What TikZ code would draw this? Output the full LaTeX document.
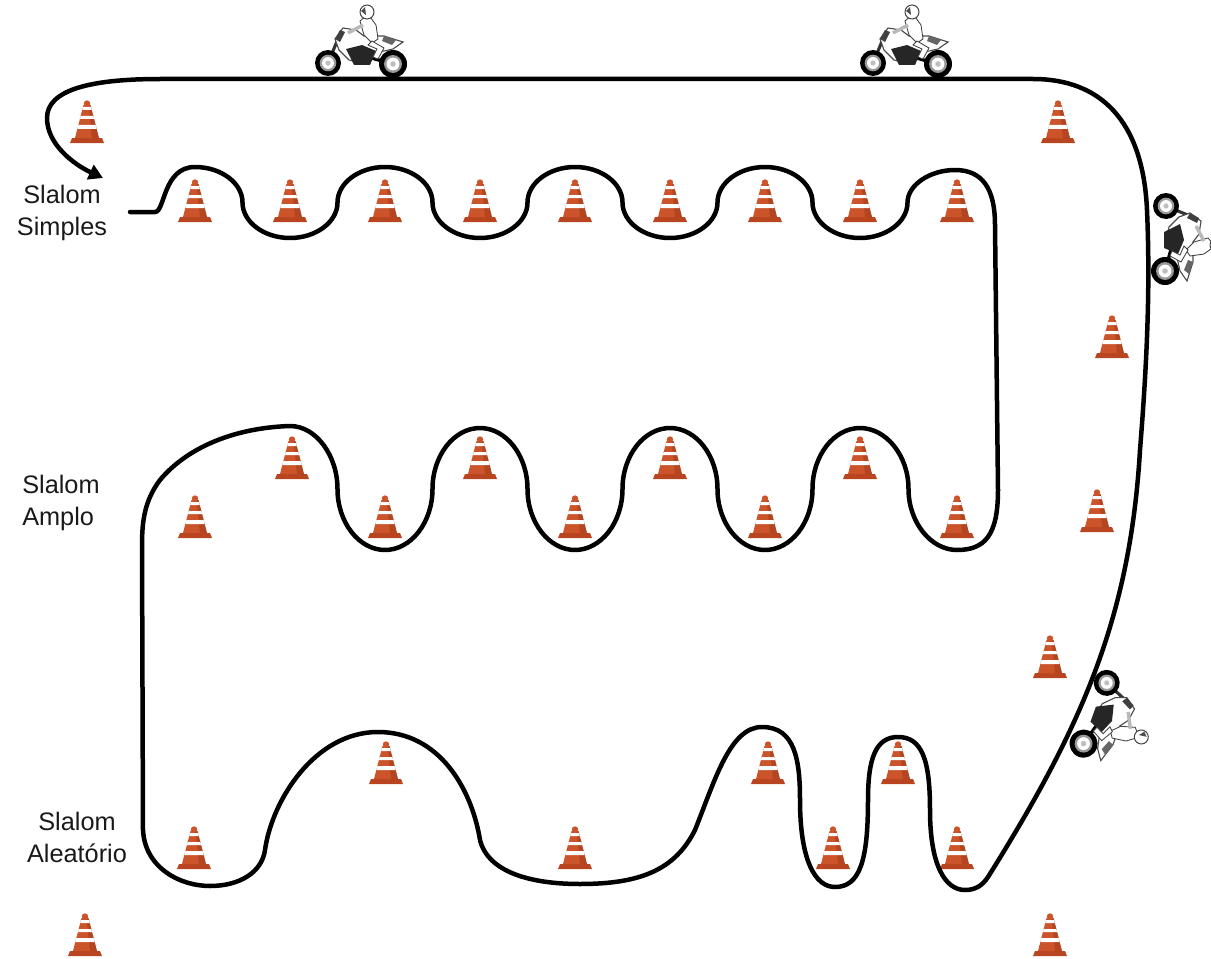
\documentclass[tikz,border=0pt]{standalone}
\usepackage{fontspec}
\setmainfont{Liberation Sans}
\usetikzlibrary{arrows.meta}

\definecolor{conebody}{RGB}{204,84,42}
\definecolor{conedark}{RGB}{150,52,22}
\definecolor{conebase}{RGB}{185,68,32}

\tikzset{
  track/.style={line width=3.2pt, line cap=round, line join=round},
  lbl/.style={font=\fontsize{18}{22.7}\selectfont, inner sep=0pt, text=black!90},
  % traffic cone, origin at the middle of its base plate
  cone/.pic={
    \fill[conebase] (-17,0) -- (17,0) -- (15,-5) -- (-15,-5) -- cycle;
    \fill[conebody] (-12,-5) -- (12,-5) -- (3.5,-38) -- (-3.5,-38) -- cycle;
    \fill[conedark, opacity=0.45] (5,-5) -- (12,-5) -- (3.5,-38) -- (1.5,-38) -- cycle;
    \fill[white] (-4.0,-36) -- (4.0,-36) -- (4.8,-33) -- (-4.8,-33) -- cycle;
    \fill[white] (-6.3,-27) -- (6.3,-27) -- (7.1,-24) -- (-7.1,-24) -- cycle;
    \fill[white] (-8.6,-18) -- (8.6,-18) -- (9.7,-14) -- (-9.7,-14) -- cycle;
    \fill[conebody] (0,-39.5) circle (3.2);
  },
  % motorcycle with rider, heading towards -x, y grows downwards
  moto/.pic={
    \draw[line width=2.4pt, black] (31,19) -- (6,12);
    \draw[line width=2.2pt, black!80] (-34,18) -- (-24,-6);
    \foreach \wx/\wy/\wr in {-34/18/13, 31/19/14} {
      \fill[black] (\wx,\wy) circle (\wr);
      \fill[gray!80] (\wx,\wy) circle ({0.64*\wr});
      \fill[white] (\wx,\wy) circle ({0.46*\wr});
      \fill[gray!50] (\wx,\wy) circle ({0.2*\wr});
    }
    \filldraw[fill=white, draw=black!70, line width=0.8pt]
      (-27,-6) -- (-19,-17) -- (-6,-15) -- (2,-9) -- (22,-9) -- (41,-3)
      -- (31,4) -- (13,8) -- (0,18) -- (-13,15) -- (-23,5) -- cycle;
    \fill[black!85] (-16,4) -- (0,0) -- (14,6) -- (8,20) -- (-8,20) -- cycle;
    \fill[black!75] (-27,-6) -- (-22,-15) -- (-17,-13) -- (-22,-3) -- cycle;
    \fill[black!60] (22,-9) -- (34,-5) -- (30,0) -- (20,-4) -- cycle;
    \filldraw[fill=white, draw=gray!50!black, line width=0.6pt]
      (2,-10) -- (-2,-24) -- (6,-31) -- (14,-20) -- (16,-6) -- (10,-2) -- cycle;
    \filldraw[fill=white, draw=gray!50!black, line width=0.6pt]
      (10,-4) -- (22,3) -- (16,14) -- (11,12) -- (15,4) -- (6,0) -- cycle;
    \draw[line width=2.4pt, gray!55] (1,-20) -- (-14,-12);
    \filldraw[fill=white, draw=gray!50!black, line width=0.7pt] (5,-33) circle (7);
    \fill[black!70] (-1,-34) -- (3,-38) -- (4,-30) -- cycle;
  }
}

\begin{document}
\begin{tikzpicture}[x=0.025cm, y=-0.025cm]
\useasboundingbox (0,0) rectangle (1211,959);

% cones of the simple slalom
\foreach \cx [count=\i] in {195,290,385,480,575,670,765,860,957}
  \pic (simples\i) at (\cx,222) {cone};

% cones of the wide slalom
\foreach \cx [count=\i] in {195,385,575,765,957}
  \pic (amploB\i) at (\cx,538) {cone};
\foreach \cx [count=\i] in {292,480,670,860}
  \pic (amploT\i) at (\cx,479) {cone};

% cones of the random slalom
\pic (alea1) at (194,869) {cone};
\pic (alea2) at (386,784) {cone};
\pic (alea3) at (575,869) {cone};
\pic (alea4) at (768,784) {cone};
\pic (alea5) at (833,869) {cone};
\pic (alea6) at (898,784) {cone};
\pic (alea7) at (957,869) {cone};

% outer cones
\pic (outer1) at (87,143) {cone};
\pic (outer2) at (1058,143) {cone};
\pic (outer3) at (1112,358) {cone};
\pic (outer4) at (1097,532) {cone};
\pic (outer5) at (1050,678) {cone};
\pic (outer6) at (85,956) {cone};
\pic (outer7) at (1050,956) {cone};

% motorcycles on the return lane
\pic (moto1) at (362,45) {moto};
\pic (moto2) at (907,45) {moto};
\pic[rotate=-90] (moto3) at (1184,240) {moto};
\pic[rotate=-110] (moto4) at (1112,721) {moto};

% the course
\coordinate (start) at (130,212);
\coordinate (finish) at (103,178);
\draw[track, -{Triangle[length=10pt,width=11pt]}] (start) -- (155,212)
  .. controls (165,212) and (163,167) .. (195,167)
  % simple slalom
  .. controls (221,167) and (242.5,183) .. (242.5,202.5) .. controls (242.5,222) and (264,238) .. (290,238)
  .. controls (316,238) and (337.5,222) .. (337.5,202.5) .. controls (337.5,183) and (359,167) .. (385,167)
  .. controls (411,167) and (432.5,183) .. (432.5,202.5) .. controls (432.5,222) and (454,238) .. (480,238)
  .. controls (506,238) and (527.5,222) .. (527.5,202.5) .. controls (527.5,183) and (549,167) .. (575,167)
  .. controls (601,167) and (622.5,183) .. (622.5,202.5) .. controls (622.5,222) and (644,238) .. (670,238)
  .. controls (696,238) and (717.5,222) .. (717.5,202.5) .. controls (717.5,183) and (739,167) .. (765,167)
  .. controls (791,167) and (812.5,183) .. (812.5,202.5) .. controls (812.5,222) and (834,238) .. (860,238)
  .. controls (886,238) and (907.5,222) .. (907.5,202.5) .. controls (907.5,185) and (930,170) .. (955,170)
  .. controls (982,170) and (995,188) .. (995,225)
  -- (998,490)
  % wide slalom
  .. controls (998,535) and (985,550) .. (957,550)
  .. controls (931,550) and (908.5,522.5) .. (908.5,489) .. controls (908.5,455.5) and (886,428) .. (860,428)
  .. controls (834,428) and (812.5,455.5) .. (812.5,489) .. controls (812.5,522.5) and (791,550) .. (765,550)
  .. controls (739,550) and (717.5,522.5) .. (717.5,489) .. controls (717.5,455.5) and (696,428) .. (670,428)
  .. controls (644,428) and (622.5,455.5) .. (622.5,489) .. controls (622.5,522.5) and (601,550) .. (575,550)
  .. controls (549,550) and (527.5,522.5) .. (527.5,489) .. controls (527.5,455.5) and (506,428) .. (480,428)
  .. controls (454,428) and (432.5,455.5) .. (432.5,489) .. controls (432.5,522.5) and (411,550) .. (385,550)
  .. controls (359,550) and (337.5,522.5) .. (337.5,489) .. controls (337.5,455.5) and (316,426) .. (290,426)
  .. controls (230,428) and (185,450) .. (160,480)
  .. controls (145,500) and (142,520) .. (142,545)
  -- (143,830)
  % random slalom
  .. controls (145,868) and (180,886) .. (210,886)
  .. controls (240,886) and (262,872) .. (265,850)
  .. controls (272,800) and (315,732) .. (378,732)
  .. controls (440,732) and (472,790) .. (480,840)
  .. controls (488,872) and (530,884) .. (580,884)
  .. controls (640,884) and (675,870) .. (695,830)
  .. controls (715,780) and (730,727) .. (762,727)
  .. controls (795,727) and (800,760) .. (800,800)
  .. controls (800,860) and (815,887) .. (835,887)
  .. controls (860,887) and (868,860) .. (868,800)
  .. controls (868,760) and (875,737) .. (898,737)
  .. controls (922,737) and (930,760) .. (930,810)
  .. controls (930,865) and (945,890) .. (965,890)
  .. controls (975,890) and (982,886) .. (988,877)
  % return lane
  .. controls (1080,730) and (1130,620) .. (1140,450)
  .. controls (1148,350) and (1150,280) .. (1147,210)
  .. controls (1143,120) and (1100,79) .. (1033,79)
  -- (160,79)
  .. controls (90,79) and (47,90) .. (47,118)
  .. controls (47,145) and (75,165) .. (finish);

% section names
\node[lbl, align=center, anchor=north] (simples) at (62,185) {Slalom\\Simples};
\node[lbl, align=left, anchor=north west] (amplo) at (22,475) {Slalom\\Amplo};
\node[lbl, align=center, anchor=north] (aleatorio) at (77,812) {Slalom\\Aleatório};
\end{tikzpicture}
\end{document}
